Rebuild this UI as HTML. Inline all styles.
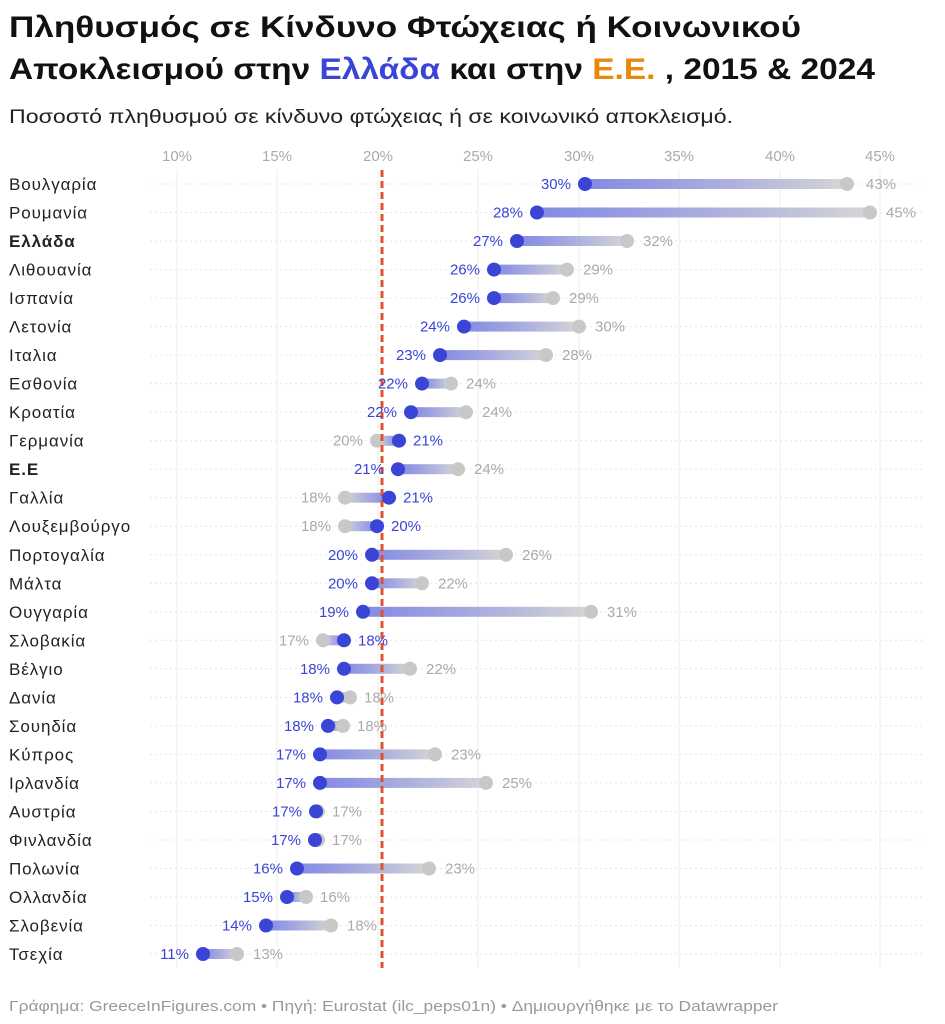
<!DOCTYPE html>
<html><head><meta charset="utf-8"><style>
body{margin:0;background:#fff;}
svg{display:block;font-family:"Liberation Sans","DejaVu Sans",sans-serif;}
</style></head><body>
<svg width="945" height="1024" viewBox="0 0 945 1024" xmlns="http://www.w3.org/2000/svg">
<defs>
<linearGradient id="lr" x1="0" x2="1" y1="0" y2="0"><stop offset="0" stop-color="#6f76e0" stop-opacity="0.85"/><stop offset="1" stop-color="#d6d6d6"/></linearGradient>
<linearGradient id="rl" x1="0" x2="1" y1="0" y2="0"><stop offset="0" stop-color="#d6d6d6"/><stop offset="1" stop-color="#6f76e0" stop-opacity="0.85"/></linearGradient>
</defs>
<rect width="945" height="1024" fill="#fff"/>
<text x="9" y="37" font-size="30" font-weight="bold" fill="#111" textLength="792" lengthAdjust="spacingAndGlyphs">Πληθυσμός σε Κίνδυνο Φτώχειας ή Κοινωνικού</text>
<text x="9" y="79" font-size="30" font-weight="bold" fill="#111" textLength="866" lengthAdjust="spacingAndGlyphs">Αποκλεισμού στην <tspan fill="#3a45d6">Ελλάδα</tspan> και στην <tspan fill="#e8890c">Ε.Ε.</tspan> , 2015 &amp; 2024</text>
<text x="9" y="123" font-size="19" fill="#222" textLength="724" lengthAdjust="spacingAndGlyphs">Ποσοστό πληθυσμού σε κίνδυνο φτώχειας ή σε κοινωνικό αποκλεισμό.</text>
<g font-size="15" fill="#aaa" text-anchor="middle">
<text x="177" y="161">10%</text><text x="277" y="161">15%</text><text x="378" y="161">20%</text><text x="478" y="161">25%</text><text x="579" y="161">30%</text><text x="679" y="161">35%</text><text x="780" y="161">40%</text><text x="880" y="161">45%</text>
</g>
<g stroke="#ececec" stroke-width="1">
<line x1="177" y1="170" x2="177" y2="968"/><line x1="277" y1="170" x2="277" y2="968"/><line x1="378" y1="170" x2="378" y2="968"/><line x1="478" y1="170" x2="478" y2="968"/><line x1="579" y1="170" x2="579" y2="968"/><line x1="679" y1="170" x2="679" y2="968"/><line x1="780" y1="170" x2="780" y2="968"/><line x1="880" y1="170" x2="880" y2="968"/>
</g>
<g stroke="#e6e6e6" stroke-width="1" stroke-dasharray="2,3">
<line x1="150" x2="925" y1="184" y2="184"/><line x1="150" x2="925" y1="212.5" y2="212.5"/><line x1="150" x2="925" y1="241" y2="241"/><line x1="150" x2="925" y1="269.6" y2="269.6"/><line x1="150" x2="925" y1="298.1" y2="298.1"/><line x1="150" x2="925" y1="326.6" y2="326.6"/><line x1="150" x2="925" y1="355.1" y2="355.1"/><line x1="150" x2="925" y1="383.6" y2="383.6"/><line x1="150" x2="925" y1="412.2" y2="412.2"/><line x1="150" x2="925" y1="440.7" y2="440.7"/><line x1="150" x2="925" y1="469.2" y2="469.2"/><line x1="150" x2="925" y1="497.7" y2="497.7"/><line x1="150" x2="925" y1="526.2" y2="526.2"/><line x1="150" x2="925" y1="554.8" y2="554.8"/><line x1="150" x2="925" y1="583.3" y2="583.3"/><line x1="150" x2="925" y1="611.8" y2="611.8"/><line x1="150" x2="925" y1="640.3" y2="640.3"/><line x1="150" x2="925" y1="668.8" y2="668.8"/><line x1="150" x2="925" y1="697.4" y2="697.4"/><line x1="150" x2="925" y1="725.9" y2="725.9"/><line x1="150" x2="925" y1="754.4" y2="754.4"/><line x1="150" x2="925" y1="782.9" y2="782.9"/><line x1="150" x2="925" y1="811.4" y2="811.4"/><line x1="150" x2="925" y1="840" y2="840"/><line x1="150" x2="925" y1="868.5" y2="868.5"/><line x1="150" x2="925" y1="897" y2="897"/><line x1="150" x2="925" y1="925.5" y2="925.5"/><line x1="150" x2="925" y1="954" y2="954"/>
</g>
<g>
<rect x="585" y="179" width="262" height="10" fill="url(#lr)"/>
<rect x="537" y="207.5" width="333" height="10" fill="url(#lr)"/>
<rect x="517" y="236" width="110" height="10" fill="url(#lr)"/>
<rect x="494" y="264.6" width="73" height="10" fill="url(#lr)"/>
<rect x="494" y="293.1" width="59" height="10" fill="url(#lr)"/>
<rect x="464" y="321.6" width="115" height="10" fill="url(#lr)"/>
<rect x="440" y="350.1" width="106" height="10" fill="url(#lr)"/>
<rect x="422" y="378.6" width="29" height="10" fill="url(#lr)"/>
<rect x="411" y="407.2" width="55" height="10" fill="url(#lr)"/>
<rect x="377" y="435.7" width="22" height="10" fill="url(#rl)"/>
<rect x="398" y="464.2" width="60" height="10" fill="url(#lr)"/>
<rect x="345" y="492.7" width="44" height="10" fill="url(#rl)"/>
<rect x="345" y="521.2" width="32" height="10" fill="url(#rl)"/>
<rect x="372" y="549.8" width="134" height="10" fill="url(#lr)"/>
<rect x="372" y="578.3" width="50" height="10" fill="url(#lr)"/>
<rect x="363" y="606.8" width="228" height="10" fill="url(#lr)"/>
<rect x="323" y="635.3" width="21" height="10" fill="url(#rl)"/>
<rect x="344" y="663.8" width="66" height="10" fill="url(#lr)"/>
<rect x="337" y="692.4" width="13" height="10" fill="url(#lr)"/>
<rect x="328" y="720.9" width="15" height="10" fill="url(#lr)"/>
<rect x="320" y="749.4" width="115" height="10" fill="url(#lr)"/>
<rect x="320" y="777.9" width="166" height="10" fill="url(#lr)"/>
<rect x="297" y="863.5" width="132" height="10" fill="url(#lr)"/>
<rect x="287" y="892" width="19" height="10" fill="url(#lr)"/>
<rect x="266" y="920.5" width="65" height="10" fill="url(#lr)"/>
<rect x="203" y="949" width="34" height="10" fill="url(#lr)"/>
</g>
<g fill="#c8c8c8">
<circle cx="847" cy="184" r="7"/><circle cx="870" cy="212.5" r="7"/><circle cx="627" cy="241" r="7"/><circle cx="567" cy="269.6" r="7"/><circle cx="553" cy="298.1" r="7"/><circle cx="579" cy="326.6" r="7"/><circle cx="546" cy="355.1" r="7"/><circle cx="451" cy="383.6" r="7"/><circle cx="466" cy="412.2" r="7"/><circle cx="377" cy="440.7" r="7"/><circle cx="458" cy="469.2" r="7"/><circle cx="345" cy="497.7" r="7"/><circle cx="345" cy="526.2" r="7"/><circle cx="506" cy="554.8" r="7"/><circle cx="422" cy="583.3" r="7"/><circle cx="591" cy="611.8" r="7"/><circle cx="323" cy="640.3" r="7"/><circle cx="410" cy="668.8" r="7"/><circle cx="350" cy="697.4" r="7"/><circle cx="343" cy="725.9" r="7"/><circle cx="435" cy="754.4" r="7"/><circle cx="486" cy="782.9" r="7"/><circle cx="318" cy="811.4" r="7"/><circle cx="318" cy="840" r="7"/><circle cx="429" cy="868.5" r="7"/><circle cx="306" cy="897" r="7"/><circle cx="331" cy="925.5" r="7"/><circle cx="237" cy="954" r="7"/>
</g>
<line x1="382" y1="170" x2="382" y2="968" stroke="#e0522e" stroke-width="3" stroke-dasharray="7,4"/>
<g fill="#3a45d6">
<circle cx="585" cy="184" r="7"/><circle cx="537" cy="212.5" r="7"/><circle cx="517" cy="241" r="7"/><circle cx="494" cy="269.6" r="7"/><circle cx="494" cy="298.1" r="7"/><circle cx="464" cy="326.6" r="7"/><circle cx="440" cy="355.1" r="7"/><circle cx="422" cy="383.6" r="7"/><circle cx="411" cy="412.2" r="7"/><circle cx="399" cy="440.7" r="7"/><circle cx="398" cy="469.2" r="7"/><circle cx="389" cy="497.7" r="7"/><circle cx="377" cy="526.2" r="7"/><circle cx="372" cy="554.8" r="7"/><circle cx="372" cy="583.3" r="7"/><circle cx="363" cy="611.8" r="7"/><circle cx="344" cy="640.3" r="7"/><circle cx="344" cy="668.8" r="7"/><circle cx="337" cy="697.4" r="7"/><circle cx="328" cy="725.9" r="7"/><circle cx="320" cy="754.4" r="7"/><circle cx="320" cy="782.9" r="7"/><circle cx="316" cy="811.4" r="7"/><circle cx="315" cy="840" r="7"/><circle cx="297" cy="868.5" r="7"/><circle cx="287" cy="897" r="7"/><circle cx="266" cy="925.5" r="7"/><circle cx="203" cy="954" r="7"/>
</g>
<g font-size="15" fill="#3a45d6" text-anchor="end">
<text x="571" y="189">30%</text><text x="523" y="217.5">28%</text><text x="503" y="246">27%</text><text x="480" y="274.6">26%</text><text x="480" y="303.1">26%</text><text x="450" y="331.6">24%</text><text x="426" y="360.1">23%</text><text x="408" y="388.6">22%</text><text x="397" y="417.2">22%</text><text x="384" y="474.2">21%</text><text x="358" y="559.8">20%</text><text x="358" y="588.3">20%</text><text x="349" y="616.8">19%</text><text x="330" y="673.8">18%</text><text x="323" y="702.4">18%</text><text x="314" y="730.9">18%</text><text x="306" y="759.4">17%</text><text x="306" y="787.9">17%</text><text x="302" y="816.4">17%</text><text x="301" y="845">17%</text><text x="283" y="873.5">16%</text><text x="273" y="902">15%</text><text x="252" y="930.5">14%</text><text x="189" y="959">11%</text>
</g>
<g font-size="15" fill="#3a45d6" text-anchor="start">
<text x="413" y="445.7">21%</text><text x="403" y="502.7">21%</text><text x="391" y="531.2">20%</text><text x="358" y="645.3">18%</text>
</g>
<g font-size="15" fill="#aaa" text-anchor="start">
<text x="866" y="189">43%</text><text x="886" y="217.5">45%</text><text x="643" y="246">32%</text><text x="583" y="274.6">29%</text><text x="569" y="303.1">29%</text><text x="595" y="331.6">30%</text><text x="562" y="360.1">28%</text><text x="466" y="388.6">24%</text><text x="482" y="417.2">24%</text><text x="474" y="474.2">24%</text><text x="522" y="559.8">26%</text><text x="438" y="588.3">22%</text><text x="607" y="616.8">31%</text><text x="426" y="673.8">22%</text><text x="364" y="702.4">18%</text><text x="357" y="730.9">18%</text><text x="451" y="759.4">23%</text><text x="502" y="787.9">25%</text><text x="332" y="816.4">17%</text><text x="332" y="845">17%</text><text x="445" y="873.5">23%</text><text x="320" y="902">16%</text><text x="347" y="930.5">18%</text><text x="253" y="959">13%</text>
</g>
<g font-size="15" fill="#aaa" text-anchor="end">
<text x="363" y="445.7">20%</text><text x="331" y="502.7">18%</text><text x="331" y="531.2">18%</text><text x="309" y="645.3">17%</text>
</g>
<g font-size="17" fill="#222" letter-spacing="0.9">
<text x="9" y="190">Βουλγαρία</text><text x="9" y="218.5">Ρουμανία</text><text x="9" y="247" font-weight="bold">Ελλάδα</text><text x="9" y="275.6">Λιθουανία</text><text x="9" y="304.1">Ισπανία</text><text x="9" y="332.6">Λετονία</text><text x="9" y="361.1">Ιταλια</text><text x="9" y="389.6">Εσθονία</text><text x="9" y="418.2">Κροατία</text><text x="9" y="446.7">Γερμανία</text><text x="9" y="475.2" font-weight="bold">Ε.Ε</text><text x="9" y="503.7">Γαλλία</text><text x="9" y="532.2">Λουξεμβούργο</text><text x="9" y="560.8">Πορτογαλία</text><text x="9" y="589.3">Μάλτα</text><text x="9" y="617.8">Ουγγαρία</text><text x="9" y="646.3">Σλοβακία</text><text x="9" y="674.8">Βέλγιο</text><text x="9" y="703.4">Δανία</text><text x="9" y="731.9">Σουηδία</text><text x="9" y="760.4">Κύπρος</text><text x="9" y="788.9">Ιρλανδία</text><text x="9" y="817.4">Αυστρία</text><text x="9" y="846">Φινλανδία</text><text x="9" y="874.5">Πολωνία</text><text x="9" y="903">Ολλανδία</text><text x="9" y="931.5">Σλοβενία</text><text x="9" y="960">Τσεχία</text>
</g>
<text x="9" y="1011" font-size="15" fill="#999" textLength="769" lengthAdjust="spacingAndGlyphs">Γράφημα: GreeceInFigures.com • Πηγή: Eurostat (ilc_peps01n) • Δημιουργήθηκε με το Datawrapper</text>
</svg>
</body></html>
